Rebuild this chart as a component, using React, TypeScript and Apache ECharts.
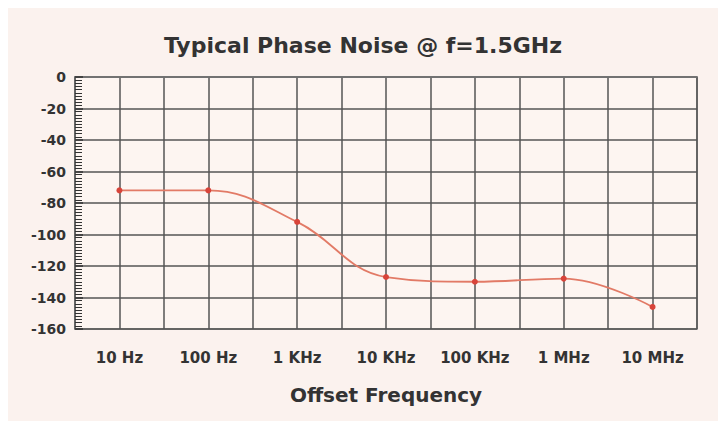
import React, { useEffect, useRef } from "react";
import * as echarts from "echarts";

const categories = ["10 Hz", "100 Hz", "1 KHz", "10 KHz", "100 KHz", "1 MHz", "10 MHz"];
const noiseValues = [-72, -72, -92, -127, -130, -128, -146];
const yTicks = { min: -160, max: 0, step: 20 };
const titleText = "Typical Phase Noise @ f=1.5GHz";
const xName = "Offset Frequency";

export default function App() {
  const ref = useRef<HTMLDivElement>(null);
  useEffect(() => {
    if (!ref.current) return;
    const chart = echarts.init(ref.current, null, { renderer: "svg" });
    const data = noiseValues.map((v, i) => [i * 2 + 1, v]);
    const font = "'DejaVu Sans', sans-serif";
    chart.setOption({
      animation: false,
      backgroundColor: "#fbf2ee",
      title: {
        text: titleText,
        left: "center",
        top: 21,
        textStyle: { fontFamily: font, fontSize: 22, fontWeight: "bold", color: "#333" },
      },
      grid: { left: 67, right: 21, top: 69, bottom: 92, show: true, borderColor: "#777", borderWidth: 1.5, backgroundColor: "#fdf5f1" },
      xAxis: {
        type: "value",
        min: 0,
        max: 14,
        interval: 1,
        name: xName,
        nameLocation: "middle",
        nameGap: 56,
        nameTextStyle: { fontFamily: font, fontSize: 20, fontWeight: "bold", color: "#333" },
        axisLine: { show: true, lineStyle: { color: "#777", width: 1.5 } },
        axisTick: { show: false },
        splitLine: { show: true, lineStyle: { color: "#555", width: 1.5 } },
        axisLabel: {
          margin: 21,
          fontFamily: font,
          fontSize: 15,
          fontWeight: "bold",
          color: "#333",
          showMinLabel: true,
          showMaxLabel: true,
          formatter: (v: number) => (v % 2 === 1 ? categories[(v - 1) / 2] : ""),
        },
      },
      yAxis: {
        type: "value",
        min: yTicks.min,
        max: yTicks.max,
        interval: yTicks.step,
        axisLine: { show: true, lineStyle: { color: "#666", width: 1.5 } },
        axisTick: { show: true, inside: true, length: 8, lineStyle: { color: "#333", width: 1.5 } },
        minorTick: { show: true, splitNumber: 10, length: 7, lineStyle: { color: "#333", width: 1 } },
        splitLine: { show: true, lineStyle: { color: "#555", width: 1.5 } },
        axisLabel: { margin: 9, fontFamily: font, fontSize: 14, fontWeight: "bold", color: "#333" },
      },
      series: [
        {
          type: "line",
          data,
          smooth: 0.4,
          symbol: "circle",
          symbolSize: 6,
          lineStyle: { color: "#e27a66", width: 1.8 },
          itemStyle: { color: "#d8443a" },
        },
      ],
    });
    return () => chart.dispose();
  }, []);
  return (
    <div
      ref={ref}
      style={{ position: "fixed", left: 8, top: 8, width: 710, height: 413 }}
    />
  );
}
